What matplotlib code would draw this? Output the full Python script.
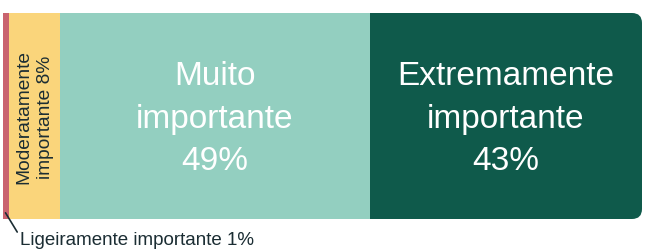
import numpy as np
import matplotlib.pyplot as plt
from matplotlib.patches import FancyBboxPatch

plt.rcParams['font.family'] = ['Liberation Sans', 'DejaVu Sans']

# Data
categories = ['Ligeiramente importante', 'Moderatamente importante',
              'Muito importante', 'Extremamente importante']
values = [1, 8, 49, 43]
colors = ['#c9636f', '#fad57b', '#93cfc0', '#0f5a4b']

dark_text = '#1b2d33'

fig = plt.figure(figsize=(6.46, 2.51), dpi=100)
ax = fig.add_axes([3 / 646, 31 / 251, 639 / 646, 206 / 251])
ax.set_xlim(0, sum(values))
ax.set_ylim(-0.5, 0.5)
ax.axis('off')

lefts = np.concatenate([[0], np.cumsum(values)[:-1]])
bars = ax.barh(0, values, left=lefts, height=1.0, color=colors, linewidth=0)

# round the right end of the last segment
px_x = 639 / sum(values)
px_y = 206.0
r = 10 / px_x
clip = FancyBboxPatch((lefts[-1] - 5, -0.5), values[-1] + 5, 1.0,
                      boxstyle=f"round,pad=0,rounding_size={r}",
                      mutation_aspect=(10 / px_y) / r,
                      transform=ax.transData, facecolor='none', edgecolor='none')
ax.add_patch(clip)
bars[-1].set_clip_path(clip)

# labels inside the big segments
for i in [2, 3]:
    name = categories[i].split(' ')
    ax.text(lefts[i] + values[i] / 2, -0.01,
            f"{name[0]}\n{name[1]}\n{values[i]}%",
            ha='center', va='center', color='white', fontsize=24,
            linespacing=1.47)

# rotated label in the yellow segment
ax.text(lefts[1] + values[1] / 2, 0.0,
        "Moderatamente\nimportante 8%", rotation=90,
        ha='center', va='center', color=dark_text, fontsize=13.8,
        linespacing=1.4)

# outside label for the thin segment
ax.annotate(f"{categories[0]} {values[0]}%",
            xy=(values[0] * 0.4, -0.47), xycoords='data',
            xytext=(20, 10), textcoords='figure pixels',
            ha='left', va='center', color=dark_text, fontsize=13.5,
            annotation_clip=False,
            arrowprops=dict(arrowstyle='-', color=dark_text, lw=1.2,
                            relpos=(0, 0.7), shrinkA=0, shrinkB=0))

fig.savefig('out.png', dpi=100)
